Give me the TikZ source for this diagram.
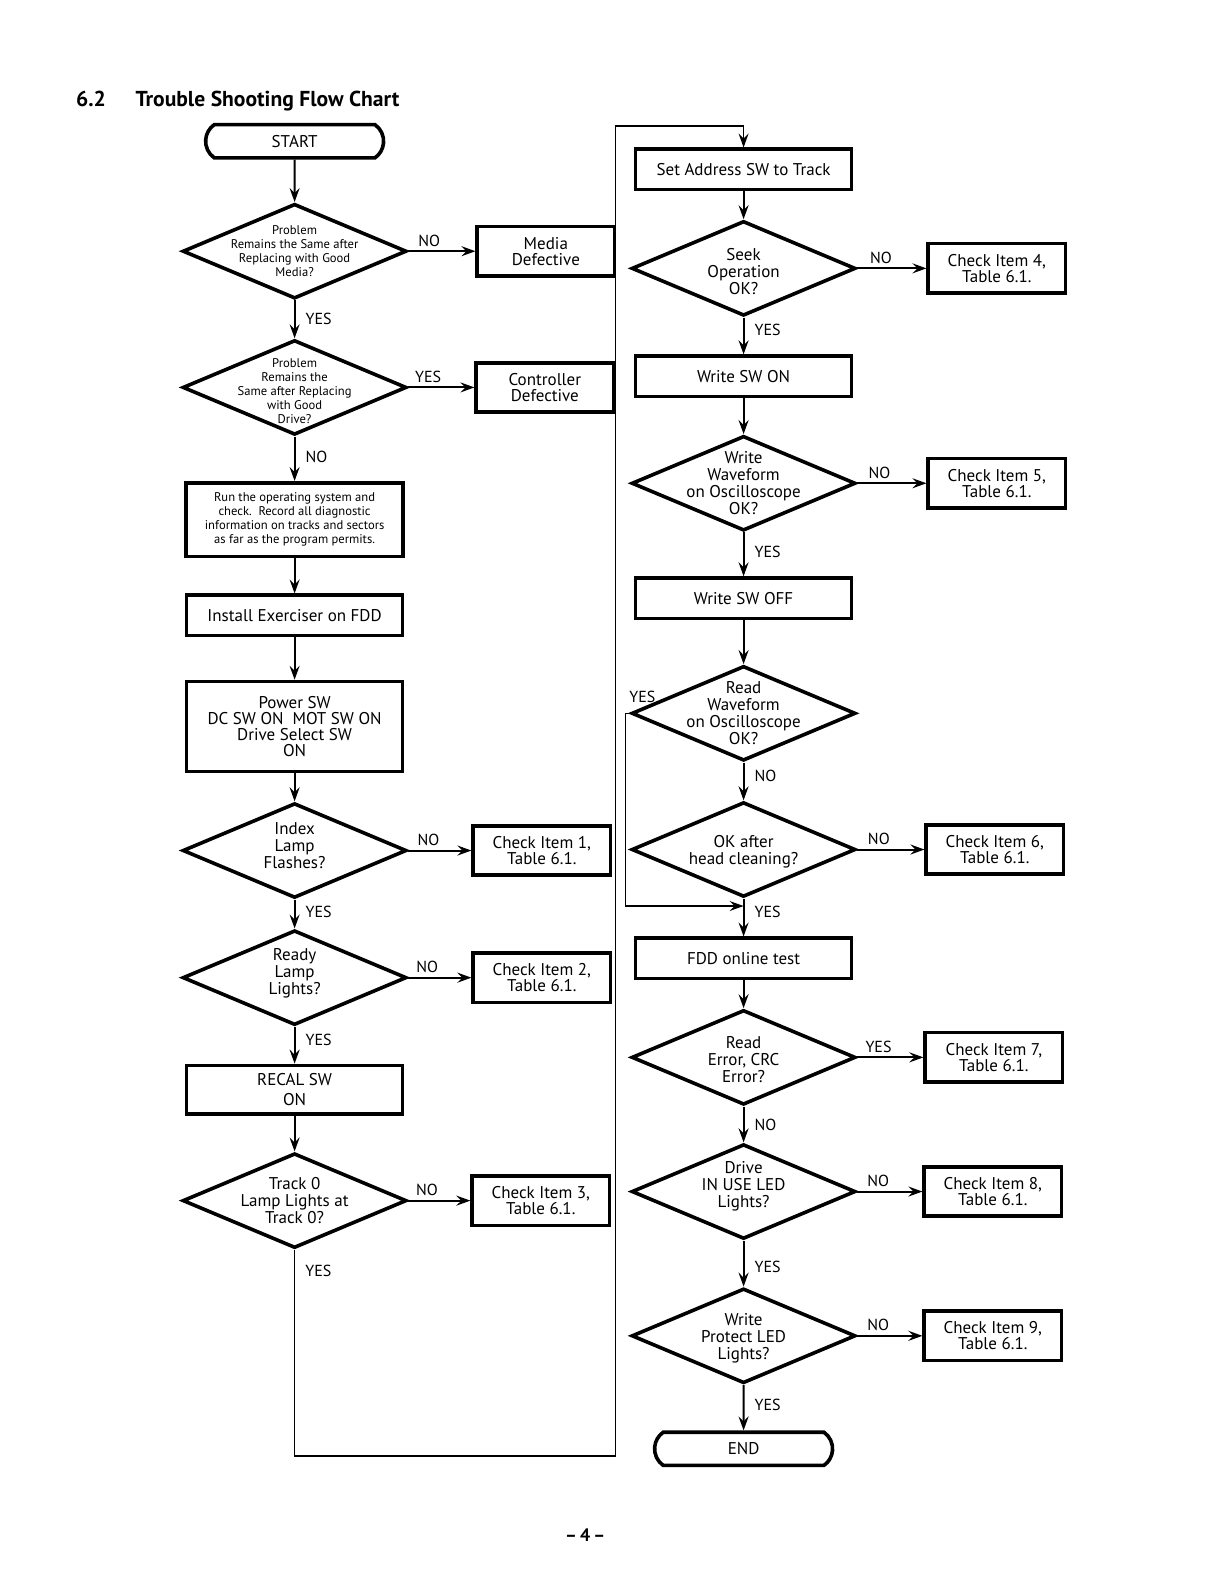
\documentclass[tikz,border=0pt]{standalone}
\usepackage{fontspec}
\setmainfont{PT Sans}
\usetikzlibrary{shapes.geometric,shapes.misc,arrows.meta}

\begin{document}
\begin{tikzpicture}[x=0.5045pt,y=-0.5045pt,
  box/.style={draw, line width=1.8pt, align=center, inner sep=0pt, font=\fontsize{8.5}{8}\selectfont},
  wide/.style={box, minimum width=108pt, minimum height=20.2pt},
  side/.style={box, minimum width=68.6pt, minimum height=24.7pt},
  term/.style={box, rounded rectangle, rounded rectangle arc length=110, minimum width=89pt, minimum height=16.6pt},
  decision/.style={draw, diamond, line width=1.8pt, inner sep=0pt, minimum width=112pt, minimum height=47.4pt},
  dtext/.style={align=center, inner sep=0pt, font=\fontsize{8.5}{8.5}\selectfont},
  dsmall/.style={align=center, inner sep=0pt, font=\fontsize{6.3}{7}\selectfont},
  yn/.style={font=\fontsize{8}{8}\selectfont, inner sep=2pt},
  arrow/.style={line width=1pt, -{Stealth[length=7pt, width=5pt, inset=2.5pt]}},
  loopline/.style={line width=0.8pt, -{Stealth[length=7pt, width=5pt, inset=2.5pt]}}]
\useasboundingbox (0,0) rectangle (1213,1568);

% title
\node[anchor=base west, inner sep=0pt, font=\bfseries\fontsize{10.8}{12}\selectfont] (num) at (75,106) {6.2};
\node[anchor=base west, inner sep=0pt, font=\bfseries\fontsize{10.8}{12}\selectfont] (title) at (134,106) {Trouble Shooting Flow Chart};

% left column
\node[term] (start) at (292,140) {START};
\node[decision, label={[dsmall]center:{Problem\\Remains the Same after\\Replacing with Good\\Media?}}] (d1) at (292,249) {};
\node[side] (media) at (541,249) {Media\\Defective};
\node[decision, label={[dsmall, yshift=-2pt]center:{Problem\\Remains the\\Same after Replacing\\with Good\\Drive?}}] (d2) at (292,384) {};
\node[side] (ctrl) at (540,384) {Controller\\Defective};
\node[box, minimum width=108.5pt, minimum height=36.8pt, font=\fontsize{6.3}{7}\selectfont] (run) at (292,515) {Run the operating system and\\check.\ \ Record all diagnostic\\information on tracks and sectors\\as far as the program permits.};
\node[wide] (inst) at (292,610) {Install Exerciser on FDD};
\node[wide, minimum height=44.9pt] (power) at (292,720) {Power SW\\DC SW ON\ \ MOT SW ON\\Drive Select SW\\ON};
\node[decision, label={[dtext, yshift=2.5pt]center:{Index\\Lamp\\Flashes?}}] (idx) at (292,843) {};
\node[side] (chk1) at (537,843) {Check Item 1,\\Table 6.1.};
\node[decision, label={[dtext, yshift=2pt]center:{Ready\\Lamp\\Lights?}}] (rdy) at (292,969) {};
\node[side] (chk2) at (537,969) {Check Item 2,\\Table 6.1.};
\node[wide, minimum height=24.2pt, font=\fontsize{8.5}{10}\selectfont] (recal) at (292,1080) {RECAL SW\\ON};
\node[decision, label={[dtext]center:{Track 0\\Lamp Lights at\\Track 0?}}] (trk) at (292,1190) {};
\node[side] (chk3) at (536,1190) {Check Item 3,\\Table 6.1.};

% right column
\node[wide] (set) at (737,168) {Set Address SW to Track};
\node[decision, label={[dtext, yshift=-1.5pt]center:{Seek\\Operation\\OK?}}] (seek) at (737,266) {};
\node[side] (chk4) at (988,266) {Check Item 4,\\Table 6.1.};
\node[wide] (wron) at (737,373) {Write SW ON};
\node[decision, label={[dtext]center:{Write\\Waveform\\on Oscilloscope\\OK?}}] (wwave) at (737,479) {};
\node[side] (chk5) at (988,479) {Check Item 5,\\Table 6.1.};
\node[wide] (wroff) at (737,593) {Write SW OFF};
\node[decision, label={[dtext]center:{Read\\Waveform\\on Oscilloscope\\OK?}}] (rwave) at (737,707) {};
\node[decision, label={[dtext, yshift=-1pt]center:{OK after\\head cleaning?}}] (okhc) at (737,842) {};
\node[side] (chk6) at (986,842) {Check Item 6,\\Table 6.1.};
\node[wide] (fdd) at (737,950) {FDD online test};
\node[decision, label={[dtext, yshift=-1pt]center:{Read\\Error, CRC\\Error?}}] (rerr) at (737,1048) {};
\node[side] (chk7) at (985,1048) {Check Item 7,\\Table 6.1.};
\node[decision, label={[dtext, yshift=2.5pt]center:{Drive\\IN USE LED\\Lights?}}] (drv) at (737,1181) {};
\node[side] (chk8) at (984,1181) {Check Item 8,\\Table 6.1.};
\node[decision, label={[dtext, yshift=-1pt]center:{Write\\Protect LED\\Lights?}}] (wp) at (737,1324) {};
\node[side] (chk9) at (984,1324) {Check Item 9,\\Table 6.1.};
\node[term] (end) at (737,1436) {END};

% page number
\node[font=\bfseries\fontsize{9}{10}\selectfont] (page) at (580,1522) {–\,4\,–};

% left column arrows
\draw[arrow] (start) -- (d1);
\draw[arrow] (d1) -- node[yn, above, pos=0.31]{NO} (media);
\draw[arrow] (d1) -- node[yn, right, xshift=3pt]{YES} (d2);
\draw[arrow] (d2) -- node[yn, above, pos=0.3]{YES} (ctrl);
\draw[arrow] (d2) -- node[yn, right, xshift=3pt, pos=0.45]{NO} (run);
\draw[arrow] (run) -- (inst);
\draw[arrow] (inst) -- (power);
\draw[arrow] (power) -- (idx);
\draw[arrow] (idx) -- node[yn, above, pos=0.32]{NO} (chk1);
\draw[arrow] (idx) -- node[yn, right, xshift=3pt, pos=0.44]{YES} (rdy);
\draw[arrow] (rdy) -- node[yn, above, pos=0.3]{NO} (chk2);
\draw[arrow] (rdy) -- node[yn, right, xshift=3pt, pos=0.35]{YES} (recal);
\draw[arrow] (recal) -- (trk);
\draw[arrow] (trk) -- node[yn, above, pos=0.3]{NO} (chk3);

% long return to the right column
\coordinate (lb) at (292,1443);
\coordinate (rb) at (610,1443);
\coordinate (rt) at (610,125);
\coordinate (tt) at (737,125);
\draw[loopline] (trk) -- node[yn, right, xshift=3pt, pos=0.1]{YES} (lb) -- (rb) -- (rt) -- (tt) -- (set);

% right column arrows
\draw[arrow] (set) -- (seek);
\draw[arrow] (seek) -- node[yn, above, pos=0.34]{NO} (chk4);
\draw[arrow] (seek) -- node[yn, right, xshift=3pt, pos=0.34]{YES} (wron);
\draw[arrow] (wron) -- (wwave);
\draw[arrow] (wwave) -- node[yn, above, pos=0.32]{NO} (chk5);
\draw[arrow] (wwave) -- node[yn, right, xshift=3pt, pos=0.45]{YES} (wroff);
\draw[arrow] (wroff) -- (rwave);
\draw[arrow] (rwave) -- node[yn, right, xshift=3pt, pos=0.35]{NO} (okhc);
\draw[arrow] (okhc) -- node[yn, above, pos=0.32]{NO} (chk6);
\draw[arrow] (okhc) -- node[yn, right, xshift=3pt, pos=0.35]{YES} (fdd);
\draw[arrow] (fdd) -- (rerr);
\draw[arrow] (rerr) -- node[yn, above, pos=0.32]{YES} (chk7);
\draw[arrow] (rerr) -- node[yn, right, xshift=3pt, pos=0.5]{NO} (drv);
\draw[arrow] (drv) -- node[yn, above, pos=0.32]{NO} (chk8);
\draw[arrow] (drv) -- node[yn, right, xshift=3pt, pos=0.58]{YES} (wp);
\draw[arrow] (wp) -- node[yn, above, pos=0.32]{NO} (chk9);
\draw[arrow] (wp) -- node[yn, right, xshift=3pt, pos=0.43]{YES} (end);

% read waveform YES loop
\coordinate (ly1) at (620,707);
\coordinate (ly2) at (620,898);
\coordinate (ly3) at (737,898);
\draw[loopline] (rwave) -- node[yn, anchor=south west, inner sep=0pt, pos=1, xshift=1.5pt, yshift=5pt]{YES} (ly1) -- (ly2) -- (ly3);
\end{tikzpicture}
\end{document}
